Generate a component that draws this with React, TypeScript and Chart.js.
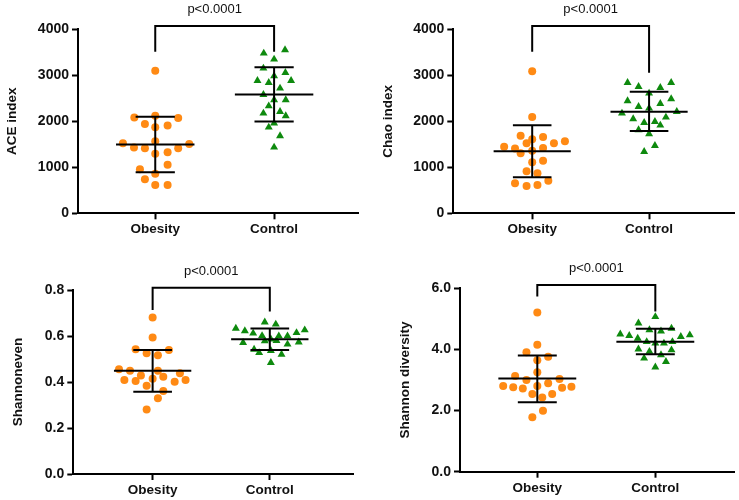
import React, { useEffect, useRef } from 'react';
import { Chart, registerables } from 'chart.js';
Chart.register(...registerables);

Chart.defaults.font.family = "Arial, 'Liberation Sans', Helvetica, sans-serif";

const categories = ['Obesity', 'Control'];
const pLabel = 'p<0.0001';

// ACE index
const aceObesity = [3101, 2080, 2123, 2072, 1942, 1870, 1906, 1522, 1565, 1507, 1428, 1413, 1413, 1297, 1326, 1058, 957, 862, 739, 616, 616];
const aceObesityJitter = [0, -0.176, 0, 0.193, -0.087, 0, 0.104, -0.272, 0, 0.286, -0.179, -0.087, 0.193, 0, 0.104, 0.104, -0.129, 0, -0.087, 0, 0.104];
const aceControl = [3478, 3551, 3348, 3152, 2985, 3058, 2884, 2884, 2840, 2717, 2580, 2464, 2464, 2333, 2210, 2174, 2116, 1957, 1870, 1681, 1435];
const aceControlJitter = [-0.087, 0.092, 0, -0.09, 0, 0.095, -0.14, 0.143, -0.045, 0.05, -0.09, 0, 0.098, -0.045, 0.05, -0.09, 0.098, 0, -0.045, 0.05, 0];
const aceMean = [1493, 2580];
const aceSdLow = [891, 1993];
const aceSdHigh = [2101, 3174];
const aceBracket = [3514, 4072, 3514];

// Chao index
const chaoObesity = [3087, 2094, 1688, 1659, 1609, 1522, 1565, 1522, 1449, 1406, 1420, 1362, 1304, 1109, 1145, 913, 870, 710, 652, 594, 616];
const chaoObesityJitter = [0, 0, -0.099, 0.093, 0, -0.048, 0.28, 0.186, -0.24, -0.147, 0.093, 0, -0.099, 0, 0.093, -0.048, 0.045, 0.138, -0.147, -0.048, 0.045];
const chaoControl = [2841, 2841, 2754, 2732, 2609, 2442, 2486, 2319, 2384, 2283, 2174, 2210, 2051, 1993, 2087, 1971, 1913, 1812, 1725, 1471, 1341];
const chaoControlJitter = [-0.184, 0.189, -0.09, 0.096, 0, -0.184, 0.189, -0.09, 0.096, 0, -0.232, 0.237, -0.136, 0.05, 0.144, -0.042, 0.096, -0.09, 0, 0.05, -0.042];
const chaoMean = [1348, 2210];
const chaoSdLow = [783, 1790];
const chaoSdHigh = [1913, 2645];
const chaoBracket = [3514, 4072, 3058];

// Shannoneven
const evenObesity = [0.68, 0.593, 0.542, 0.539, 0.525, 0.516, 0.455, 0.449, 0.449, 0.438, 0.428, 0.423, 0.409, 0.404, 0.414, 0.409, 0.401, 0.384, 0.361, 0.329, 0.28];
const evenObesityJitter = [0, 0, -0.145, 0.139, -0.051, 0.045, -0.287, -0.193, 0.045, 0.233, -0.1, 0.091, -0.241, -0.145, 0, 0.281, 0.188, -0.051, 0.091, 0.045, -0.051];
const evenControl = [0.66, 0.651, 0.633, 0.622, 0.612, 0.614, 0.626, 0.601, 0.6, 0.6, 0.571, 0.578, 0.586, 0.58, 0.573, 0.564, 0.542, 0.527, 0.536, 0.52, 0.484];
const evenControlJitter = [-0.043, 0.051, -0.29, -0.213, -0.142, 0.228, 0.298, -0.066, 0.077, 0.151, -0.228, -0.043, 0.009, 0.057, 0.247, 0.151, -0.134, -0.091, 0.009, 0.1, 0.009];
const evenMean = [0.449, 0.586];
const evenSdLow = [0.358, 0.539];
const evenSdHigh = [0.539, 0.633];
const evenBracket = [0.713, 0.81, 0.706];

// Shannon diversity
const shanObesity = [5.21, 4.15, 3.91, 3.76, 3.65, 3.25, 3.13, 3.0, 3.03, 2.89, 2.8, 2.76, 2.8, 2.78, 2.75, 2.72, 2.54, 2.54, 2.43, 1.99, 1.78];
const shanObesityJitter = [0, 0, -0.092, 0.092, 0, 0, -0.188, -0.092, 0.188, 0.092, -0.289, -0.204, 0, 0.289, 0.21, -0.123, -0.042, 0.126, 0.042, 0.048, -0.042];
const shanControl = [5.07, 4.86, 4.64, 4.6, 4.69, 4.5, 4.45, 4.47, 4.42, 4.36, 4.25, 4.2, 4.2, 4.25, 4.01, 3.93, 3.98, 3.82, 3.71, 3.6, 3.42];
const shanControlJitter = [0, -0.143, -0.05, 0.048, 0.137, -0.297, -0.221, 0.292, 0.216, -0.149, -0.073, 0, 0.073, 0.145, -0.143, -0.05, 0.137, 0.048, -0.095, 0.09, 0];
const shanMean = [3.05, 4.25];
const shanSdLow = [2.27, 3.84];
const shanSdHigh = [3.8, 4.68];
const shanBracket = [5.73, 6.11, 5.24];

const ORANGE = '#FF8A14';
const GREEN = '#0E8A0E';

const panels = [
  {
    title: 'ACE index', obesity: aceObesity, obesityJitter: aceObesityJitter, control: aceControl, controlJitter: aceControlJitter,
    mean: aceMean, sdLow: aceSdLow, sdHigh: aceSdHigh, bracket: aceBracket, yMax: 4000, yStep: 1000, decimals: 0,
    left: 0, top: 0, width: 370, height: 250, area: { left: 78, right: 358, top: 29.3, bottom: 213.3 }, xMin: 0.35, xMax: 2.706, titlePad: 4,
  },
  {
    title: 'Chao index', obesity: chaoObesity, obesityJitter: chaoObesityJitter, control: chaoControl, controlJitter: chaoControlJitter,
    mean: chaoMean, sdLow: chaoSdLow, sdHigh: chaoSdHigh, bracket: chaoBracket, yMax: 4000, yStep: 1000, decimals: 0,
    left: 370, top: 0, width: 369, height: 250, area: { left: 83.3, right: 367, top: 29.3, bottom: 213.3 }, xMin: 0.325, xMax: 2.73, titlePad: 10,
  },
  {
    title: 'Shannoneven', obesity: evenObesity, obesityJitter: evenObesityJitter, control: evenControl, controlJitter: evenControlJitter,
    mean: evenMean, sdLow: evenSdLow, sdHigh: evenSdHigh, bracket: evenBracket, yMax: 0.8, yStep: 0.2, decimals: 1,
    left: 0, top: 250, width: 370, height: 250, area: { left: 73.3, right: 353, top: 40, bottom: 224 }, xMin: 0.323, xMax: 2.71, titlePad: 10,
  },
  {
    title: 'Shannon diversity', obesity: shanObesity, obesityJitter: shanObesityJitter, control: shanControl, controlJitter: shanControlJitter,
    mean: shanMean, sdLow: shanSdLow, sdHigh: shanSdHigh, bracket: shanBracket, yMax: 6, yStep: 2, decimals: 1,
    left: 370, top: 250, width: 369, height: 250, area: { left: 90, right: 367, top: 38.3, bottom: 221.7 }, xMin: 0.345, xMax: 2.67, titlePad: 27,
  },
];

const pTextPlugin = {
  id: 'pText',
  afterDatasetsDraw(chart: any, _args: any, opts: any) {
    const { ctx, scales } = chart;
    const x = scales.x;
    const y = scales.y;
    const cx = (x.getPixelForValue(1) + x.getPixelForValue(2)) / 2;
    const cy = y.getPixelForValue(opts.top) - 16.5;
    ctx.save();
    ctx.font = "13px Arial, 'Liberation Sans', sans-serif";
    ctx.fillStyle = '#111';
    ctx.textAlign = 'center';
    ctx.textBaseline = 'middle';
    ctx.fillText(opts.text, cx, cy);
    ctx.restore();
  },
};

function Panel({ p }: { p: any }) {
  const ref = useRef<HTMLCanvasElement>(null);
  useEffect(() => {
    if (!ref.current) return;
    const seg = (pts: any[]) => ({
      type: 'scatter',
      data: pts,
      showLine: true,
      borderColor: '#000',
      borderWidth: 2,
      pointRadius: 0,
      clip: false,
      order: 0,
    });
    const datasets: any[] = [
      {
        type: 'scatter',
        data: p.obesity.map((v: number, i: number) => ({ x: 1 + p.obesityJitter[i], y: v })),
        pointStyle: 'circle', pointRadius: 4, backgroundColor: ORANGE, borderWidth: 0, order: 2, clip: false,
      },
      {
        type: 'scatter',
        data: p.control.map((v: number, i: number) => ({ x: 2 + p.controlJitter[i], y: v })),
        pointStyle: 'triangle', pointRadius: 4.6, backgroundColor: GREEN, borderWidth: 0, order: 2, clip: false,
      },
    ];
    [1, 2].forEach((c, k) => {
      datasets.push(seg([{ x: c - 0.33, y: p.mean[k] }, { x: c + 0.33, y: p.mean[k] }]));
      datasets.push(seg([{ x: c, y: p.sdLow[k] }, { x: c, y: p.sdHigh[k] }]));
      datasets.push(seg([{ x: c - 0.165, y: p.sdHigh[k] }, { x: c + 0.165, y: p.sdHigh[k] }]));
      datasets.push(seg([{ x: c - 0.165, y: p.sdLow[k] }, { x: c + 0.165, y: p.sdLow[k] }]));
    });
    datasets.push(seg([
      { x: 1, y: p.bracket[0] }, { x: 1, y: p.bracket[1] }, { x: 2, y: p.bracket[1] }, { x: 2, y: p.bracket[2] },
    ]));

    const a = p.area;
    const chart = new Chart(ref.current, {
      type: 'scatter',
      data: { datasets },
      plugins: [pTextPlugin],
      options: {
        animation: false,
        responsive: false,
        events: [],
        layout: { padding: { top: a.top, right: p.width - a.right, left: 0, bottom: 0 } },
        plugins: {
          legend: { display: false },
          tooltip: { enabled: false },
          pText: { text: pLabel, top: p.bracket[1] },
        } as any,
        scales: {
          x: {
            type: 'linear',
            min: p.xMin,
            max: p.xMax,
            afterBuildTicks: (s: any) => { s.ticks = [{ value: 1 }, { value: 2 }]; },
            afterFit: (s: any) => { s.height = p.height - a.bottom; },
            ticks: {
              callback: (v: any) => categories[Math.round(v) - 1] ?? '',
              font: { size: 13.5, weight: 'bold' },
              color: '#111',
              padding: 2,
              maxRotation: 0,
              autoSkip: false,
            },
            grid: { display: true, drawOnChartArea: false, drawTicks: true, tickLength: 6, tickWidth: 2, tickColor: '#000' },
            border: { display: true, color: '#000', width: 2 },
          },
          y: {
            type: 'linear',
            min: 0,
            max: p.yMax,
            afterFit: (s: any) => { s.width = a.left; },
            ticks: {
              stepSize: p.yStep,
              callback: (v: any) => Number(v).toFixed(p.decimals),
              font: { size: 14, weight: 'bold' },
              color: '#111',
              padding: 3,
            },
            grid: { display: true, drawOnChartArea: false, drawTicks: true, tickLength: 6, tickWidth: 2, tickColor: '#000' },
            border: { display: true, color: '#000', width: 2 },
            title: {
              display: true,
              text: p.title,
              font: { size: 13.5, weight: 'bold' },
              color: '#111',
              padding: { top: p.titlePad, bottom: 0 },
            },
          },
        },
      } as any,
    });
    return () => chart.destroy();
  }, [p]);
  return (
    <canvas
      ref={ref}
      width={p.width}
      height={p.height}
      style={{ position: 'absolute', left: p.left, top: p.top, width: p.width, height: p.height, display: 'block' }}
    />
  );
}

export default function App() {
  return (
    <div style={{ position: 'absolute', left: 0, top: 0, width: 739, height: 500, background: '#fff' }}>
      {panels.map((p, i) => (
        <Panel key={i} p={p} />
      ))}
    </div>
  );
}
